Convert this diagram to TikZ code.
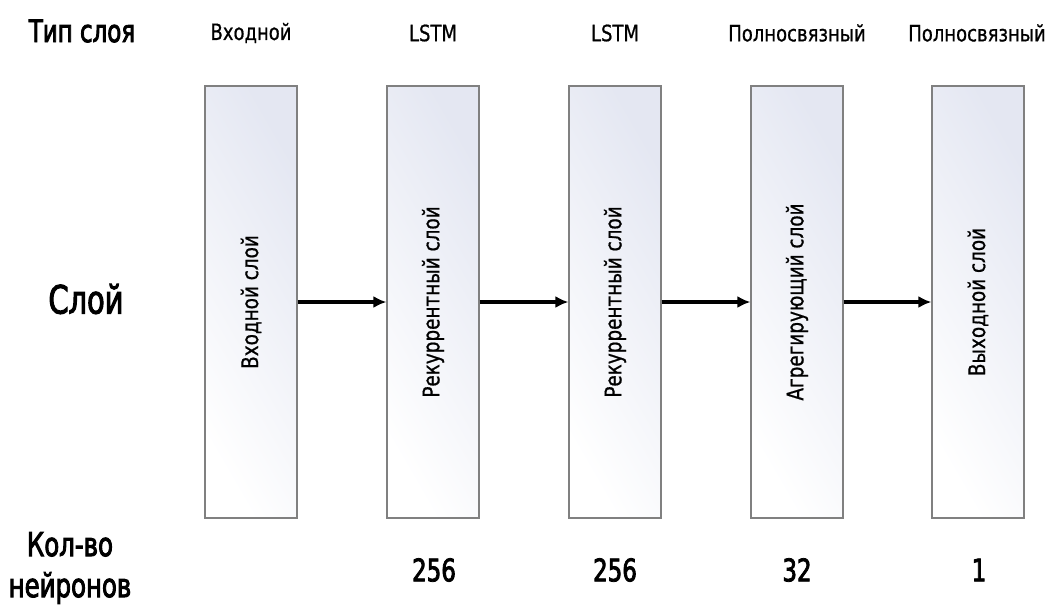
\documentclass[tikz,border=0pt]{standalone}
\usepackage{fontspec}
\setmainfont[FakeStretch=0.8, FakeBold=0.7]{DejaVu Sans}
\newfontfamily\semifont[FakeStretch=0.74, FakeBold=2.6]{DejaVu Sans}
\usetikzlibrary{arrows.meta}
\definecolor{boxedge}{RGB}{128,128,128}
\definecolor{boxtint}{RGB}{228,231,242}
\tikzset{
    layerbox/.style={draw=boxedge, line width=1.2pt, shading=axis, top color=boxtint, bottom color=white, shading angle=-60, minimum width=92pt, minimum height=432pt, inner sep=0pt, font=\fontsize{23}{27}\selectfont},
    flow/.style={line width=4pt, -{Latex[length=13pt, width=12pt]}},
    head/.style={font=\fontsize{22.5}{27}\selectfont},
    rowname/.style={font=\semifont\fontsize{31}{36}\selectfont},
    count/.style={font=\semifont\fontsize{31}{36}\selectfont}
}
\begin{document}
\begin{tikzpicture}[x=1pt,y=-1pt]
        \useasboundingbox (0,0) rectangle (1051,606);

        \node[rowname] (typelbl) at (82,31) {Тип слоя};
        \node[head] (h1) at (251,33) {Входной};
        \node[head] (h2) at (433,33) {LSTM};
        \node[head] (h3) at (615,33) {LSTM};
        \node[head] (h4) at (797,33) {Полносвязный};
        \node[head] (h5) at (977,33) {Полносвязный};

        \node[rowname, font=\semifont\fontsize{39}{44}\selectfont] (layerlbl) at (86,299) {Слой};
        \node[layerbox] (inp) at (251,302) {\rotatebox{90}{Входной слой}};
        \node[layerbox] (rec1) at (433,302) {\rotatebox{90}{Рекуррентный слой}};
        \node[layerbox] (rec2) at (615,302) {\rotatebox{90}{Рекуррентный слой}};
        \node[layerbox] (agg) at (797,302) {\rotatebox{90}{Агрегирующий слой}};
        \node[layerbox] (outp) at (978,302) {\rotatebox{90}{Выходной слой}};

        \draw[flow] (inp.east) -- (rec1.west);
        \draw[flow] (rec1.east) -- (rec2.west);
        \draw[flow] (rec2.east) -- (agg.west);
        \draw[flow] (agg.east) -- (outp.west);

        \node[rowname, align=center, font=\semifont\fontsize{33}{41}\selectfont] (countlbl) at (70,568) {Кол-во\\нейронов};
        \node[count] (n2) at (434,570) {256};
        \node[count] (n3) at (615,570) {256};
        \node[count] (n4) at (797,570) {32};
        \node[count] (n5) at (979,570) {1};
    \end{tikzpicture}
\end{document}
